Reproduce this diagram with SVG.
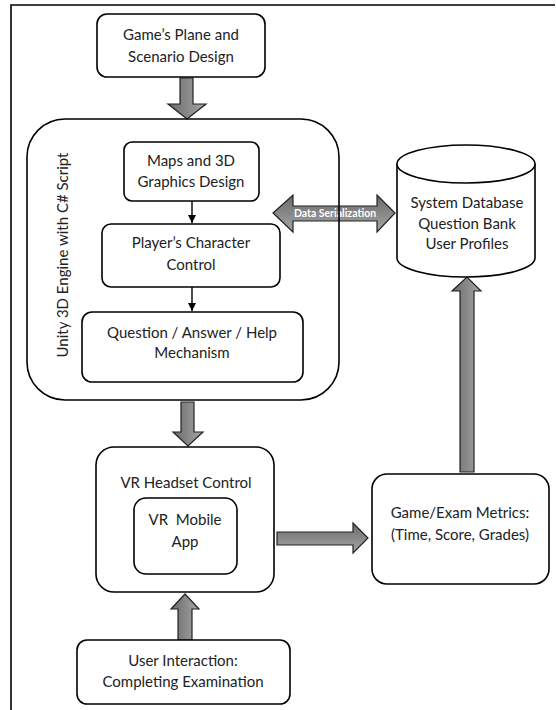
<svg xmlns="http://www.w3.org/2000/svg" width="556" height="710" viewBox="0 0 556 710">
<defs>
<linearGradient id="gv" x1="0" y1="0" x2="1" y2="0">
<stop offset="0" stop-color="#6a6a6a"/><stop offset="1" stop-color="#a6a6a6"/>
</linearGradient>
<linearGradient id="gh" x1="0" y1="0" x2="0" y2="1">
<stop offset="0" stop-color="#6a6a6a"/><stop offset="1" stop-color="#a6a6a6"/>
</linearGradient>
<marker id="ah" viewBox="0 0 10 10" refX="10" refY="5" markerWidth="8" markerHeight="8" markerUnits="userSpaceOnUse" orient="auto">
<path d="M0,0 L10,5 L0,10 Z" fill="#000"/>
</marker>
<style>
.box{fill:#fff;stroke:#000;stroke-width:1.6}
.t{font-family:Lato,"Liberation Sans",sans-serif;font-size:15px;fill:#222;text-anchor:middle}
.fat{stroke:#222;stroke-width:1.2;stroke-linejoin:miter}
.thin{stroke:#000;stroke-width:1.4;fill:none}
</style>
</defs>
<rect width="556" height="710" fill="#fff"/>
<path d="M11,710 V5 H555" fill="none" stroke="#000" stroke-width="1.6"/>

<g id="connectors">
<polygon class="fat" fill="url(#gv)" points="180,78 193,78 193,104 206,104 187,119 168,104 180,104"/>
<polygon class="fat" fill="url(#gh)" points="273,213 293,195 293,206 377,206 377,195 395,213 377,232 377,221 293,221 293,232"/>
<polygon class="fat" fill="url(#gv)" points="181,402 194,402 194,432 203,432 188,446 173,432 181,432"/>
<polygon class="fat" fill="url(#gh)" points="277,532 353,532 353,523 368,538 353,553 353,545 277,545"/>
<polygon class="fat" fill="url(#gv)" points="178,640 192,640 192,609 199,609 185,594 171,609 178,609"/>
<polygon class="fat" fill="url(#gv)" points="460,472 474,472 474,291 481,291 467,277 452,291 460,291"/>
<text x="335" y="217" style="font-family:Lato,'Liberation Sans',sans-serif;font-size:10.5px;font-weight:bold;fill:#fff;text-anchor:middle">Data Serialization</text>
<line class="thin" x1="192" y1="201" x2="192" y2="223" marker-end="url(#ah)"/>
<line class="thin" x1="192" y1="287" x2="192" y2="311" marker-end="url(#ah)"/>
</g>

<g id="game-plane">
<rect class="box" x="97" y="14" width="168" height="63" rx="10"/>
<text class="t" x="181" y="40">Game’s Plane and</text>
<text class="t" x="181" y="62">Scenario Design</text>
</g>

<g id="unity">
<rect x="27" y="119" width="312" height="281" rx="38" fill="none" stroke="#000" stroke-width="1.6"/>
<text class="t" transform="translate(68,255) rotate(-90)">Unity 3D Engine with C# Script</text>
</g>

<g id="maps">
<rect class="box" x="124" y="142" width="135" height="59" rx="8"/>
<text class="t" x="191" y="166">Maps and 3D</text>
<text class="t" x="191" y="187">Graphics Design</text>
</g>

<g id="player">
<rect class="box" x="102" y="224" width="178" height="63" rx="9"/>
<text class="t" x="191" y="248">Player’s Character</text>
<text class="t" x="191" y="270">Control</text>
</g>

<g id="question">
<rect class="box" x="82" y="312" width="221" height="70" rx="10"/>
<text class="t" x="192" y="338">Question / Answer / Help</text>
<text class="t" x="192" y="358">Mechanism</text>
</g>

<g id="database">
<path class="box" d="M397,164 V258 A69,19 0 0 0 535,258 V164"/>
<ellipse class="box" cx="466" cy="164" rx="69" ry="19"/>
<text class="t" x="467" y="208">System Database</text>
<text class="t" x="467" y="229">Question Bank</text>
<text class="t" x="467" y="249">User Profiles</text>
</g>

<g id="vr-headset">
<rect class="box" x="96" y="447" width="178" height="145" rx="18"/>
<text class="t" x="186" y="488">VR Headset Control</text>
</g>

<g id="vr-app">
<rect class="box" x="134" y="498" width="103" height="76" rx="12"/>
<text class="t" x="185" y="525" style="white-space:pre">VR  Mobile</text>
<text class="t" x="185" y="547">App</text>
</g>

<g id="metrics">
<rect class="box" x="372" y="474" width="177" height="110" rx="15"/>
<text class="t" x="460" y="518">Game/Exam Metrics:</text>
<text class="t" x="460" y="540">(Time, Score, Grades)</text>
</g>

<g id="user">
<rect class="box" x="77" y="640" width="213" height="64" rx="10"/>
<text class="t" x="183" y="666">User Interaction:</text>
<text class="t" x="183" y="687">Completing Examination</text>
</g>
</svg>
